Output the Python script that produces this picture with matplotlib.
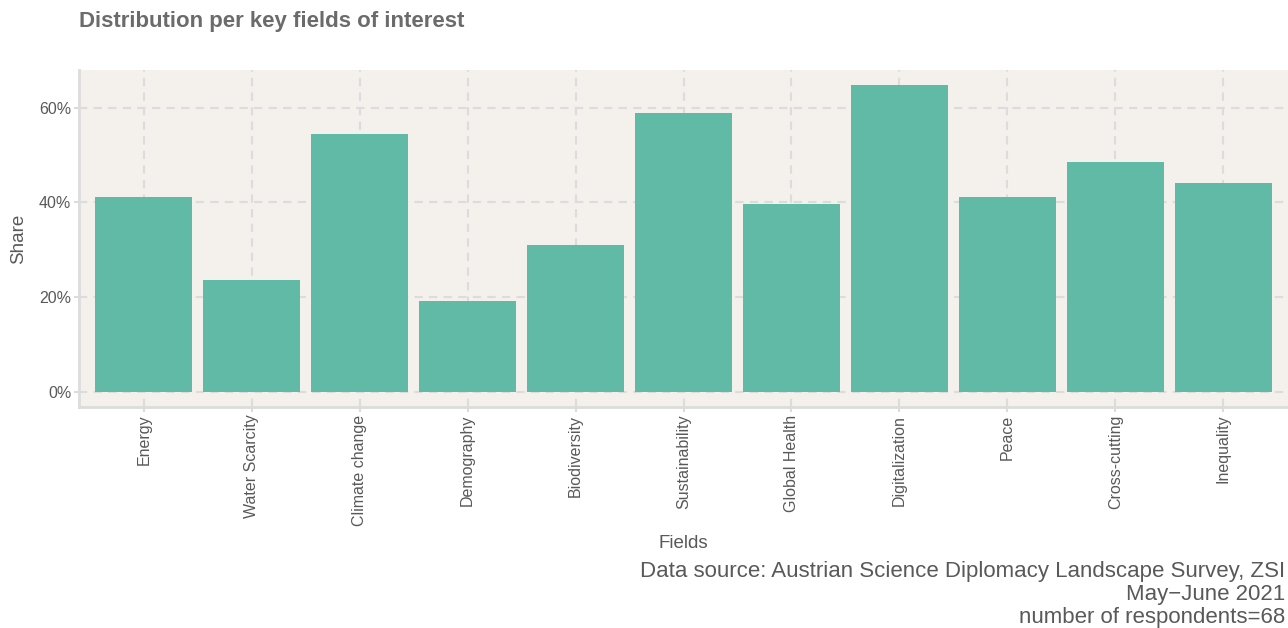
import matplotlib
matplotlib.use("Agg")
import matplotlib.pyplot as plt
from matplotlib.ticker import FuncFormatter

categories = ["Energy", "Water Scarcity", "Climate change", "Demography", "Biodiversity",
              "Sustainability", "Global Health", "Digitalization", "Peace", "Cross-cutting",
              "Inequality"]
shares = [41.2, 23.5, 54.4, 19.1, 30.9, 58.8, 39.7, 64.7, 41.2, 48.5, 44.1]
y_ticks = [0, 20, 40, 60]

title = "Distribution per key fields of interest"
caption = "Data source: Austrian Science Diplomacy Landscape Survey, ZSI\nMay\u2212June 2021\nnumber of respondents=68"

plt.rcParams['font.family'] = ['Liberation Sans', 'DejaVu Sans']

W, H = 1288, 628
fig = plt.figure(figsize=(W / 100, H / 100), dpi=100)
ax = fig.add_axes([79 / W, (H - 407) / H, (1288 - 79) / W, (407 - 70) / H])

panel = "#F4F0EB"
grid_c = "#DCDCDC"
text_c = "#595959"
bar_c = "#61BAA5"

ax.set_facecolor(panel)
x = list(range(len(categories)))
ax.bar(x, shares, width=0.9, color=bar_c, zorder=3)

ax.set_xlim(-0.6, len(categories) - 0.4)
ymax = max(shares)
ax.set_ylim(-0.05 * ymax, ymax * 1.05)
ax.set_yticks(y_ticks)
ax.yaxis.set_major_formatter(FuncFormatter(lambda v, p: f"{int(v)}%"))
ax.set_xticks(x)
ax.set_xticklabels(categories, rotation=90, fontsize=11.5, color=text_c)
ax.tick_params(axis='y', labelsize=11.5, labelcolor=text_c)
ax.tick_params(axis='both', color=grid_c, length=3.5, width=1.5, pad=2)

ax.grid(True, which='major', color=grid_c, linestyle=(0, (4, 3)), linewidth=1.5, zorder=0)
ax.set_axisbelow(True)

for s in ['top', 'right']:
    ax.spines[s].set_visible(False)
for s in ['left', 'bottom']:
    ax.spines[s].set_color(grid_c)
    ax.spines[s].set_linewidth(2)

ax.set_ylabel("Share", fontsize=13.5, color=text_c)
ax.yaxis.set_label_coords(-(79 - 19) / (1288 - 79), 0.5)
ax.set_xlabel("Fields", fontsize=13.5, color=text_c)
ax.xaxis.set_label_coords(0.5, -(543 - 407) / (407 - 70))
ax.xaxis.label.set_verticalalignment('center')
ax.yaxis.label.set_verticalalignment('center')

fig.text(79 / W, 1 - 21 / H, title, fontsize=16, fontweight='bold', color="#6B6B6B",
         ha='left', va='center')
fig.text(1285 / W, 1 - 561 / H, caption, fontsize=16, color=text_c, ha='right', va='top',
         linespacing=1.12)

fig.savefig("out.png", dpi=100)
